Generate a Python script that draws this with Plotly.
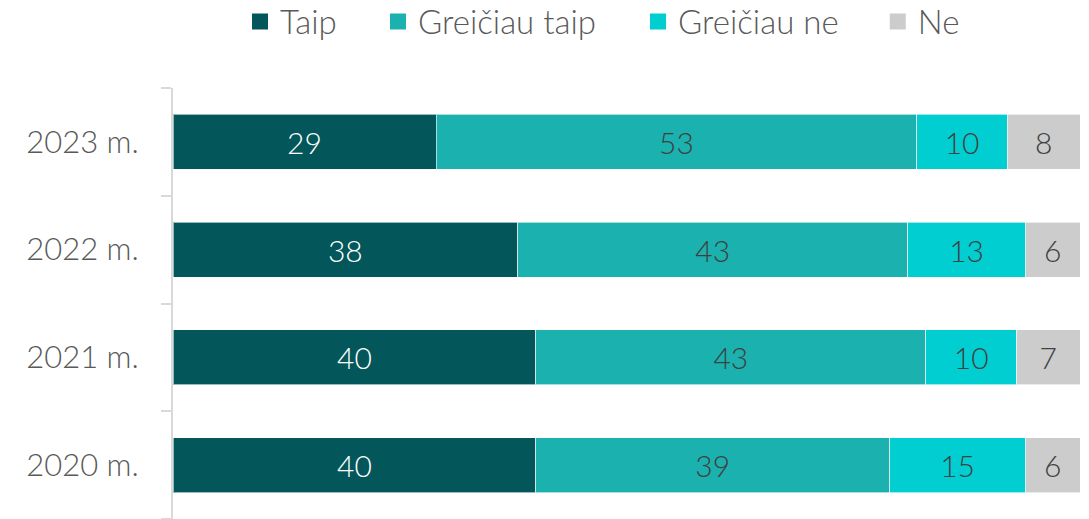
import plotly.graph_objects as go

categories = ["2023 m.", "2022 m.", "2021 m.", "2020 m."]
series_names = ["Taip", "Greičiau taip", "Greičiau ne", "Ne"]
taip = [29, 38, 40, 40]
greiciau_taip = [53, 43, 43, 39]
greiciau_ne = [10, 13, 10, 15]
ne = [8, 6, 7, 6]

values = [taip, greiciau_taip, greiciau_ne, ne]
colors = ["#03565A", "#1BB1AE", "#00CED1", "#CCCCCC"]
text_colors = ["#FFFFFF", "#404040", "#404040", "#404040"]
legend_x = [0.0739, 0.226, 0.5127, 0.777]

FONT = "Lato, Open Sans, sans-serif"
W = 300

fig = go.Figure()
for i, (name, vals, col, tcol) in enumerate(zip(series_names, values, colors, text_colors)):
    lg = "legend" if i == 0 else f"legend{i+1}"
    fig.add_trace(go.Bar(
        y=categories, x=vals, name=name, orientation="h",
        marker=dict(color=col, line=dict(color="rgba(255,255,255,0.6)", width=1)),
        text=[str(v) for v in vals], textposition="inside", insidetextanchor="middle",
        textangle=0,
        textfont=dict(color=tcol, size=30, family=FONT, weight=W),
        hoverinfo="skip", showlegend=False,
    ))
    # legend-only marker trace (square swatch)
    fig.add_trace(go.Scatter(
        x=[None], y=[None], mode="markers", name=name,
        marker=dict(symbol="square", size=22, color=col),
        showlegend=True, legend=lg, hoverinfo="skip",
    ))

legend_common = dict(
    orientation="h", xanchor="left", y=1.154, yanchor="middle",
    font=dict(size=33, color="#595959", family=FONT, weight=W),
    itemsizing="trace", bgcolor="rgba(0,0,0,0)", visible=True,
)

layout_legends = {}
for i, lx in enumerate(legend_x):
    key = "legend" if i == 0 else f"legend{i+1}"
    layout_legends[key] = dict(legend_common, x=lx)

fig.update_layout(
    barmode="stack",
    bargap=0.49,
    width=1089, height=519,
    showlegend=True,
    margin=dict(l=173, r=9, t=88, b=0, autoexpand=False),
    paper_bgcolor="white", plot_bgcolor="white",
    font=dict(family=FONT, color="#595959", weight=W),
    uniformtext=dict(minsize=10, mode="show"),
    xaxis=dict(range=[0, 100], visible=False, fixedrange=True),
    yaxis=dict(
        categoryorder="array", categoryarray=categories[::-1],
        showline=True, linecolor="#D9D9D9", linewidth=2,
        ticks="outside", ticklen=10, tickcolor="#D9D9D9", tickwidth=2,
        tickson="boundaries", showgrid=False, automargin=False,
        tickfont=dict(size=31, color="#595959", family=FONT, weight=W),
        ticklabelstandoff=26,
    ),
    **layout_legends,
)

fig.write_html(
    "out.html",
    config={"displayModeBar": False},
    post_script="document.body.style.margin='0';document.body.style.overflow='hidden';",
)
